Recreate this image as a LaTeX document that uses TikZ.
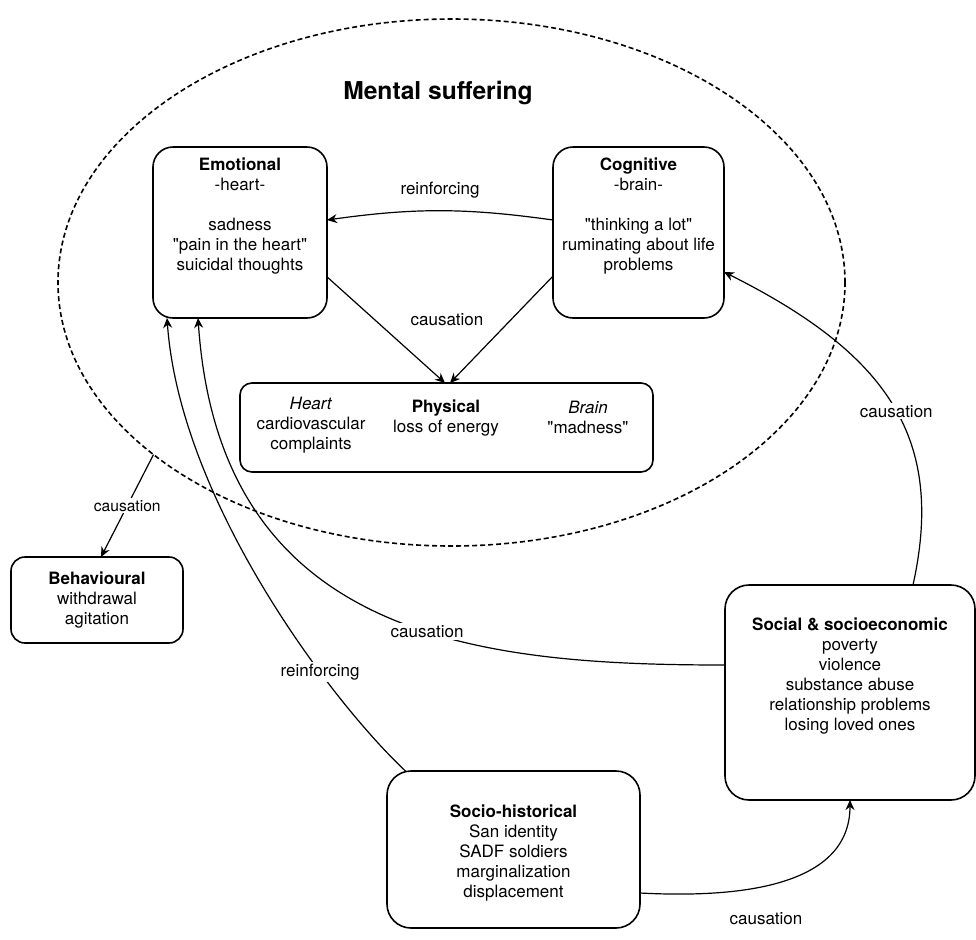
\documentclass[tikz,border=0pt]{standalone}
\usepackage{fontspec}
\setmainfont{TeX Gyre Heros}[Ligatures=TeXOff]
\usetikzlibrary{positioning,shapes.geometric,arrows.meta}

\begin{document}
\begin{tikzpicture}[x=0.5pt,y=-0.5pt,
  font=\fontsize{8.5}{10}\selectfont,
  box/.style={draw,line width=0.8pt,rounded corners=10pt,outer sep=0pt},
  txt/.style={align=center,inner sep=0pt},
  lbl/.style={fill=white,inner sep=1pt},
  arr/.style={-{Stealth[length=5pt,width=4.5pt]},line width=0.6pt}]
\useasboundingbox (0,0) rectangle (976,939);

% dashed outline
\node[ellipse,draw,line width=0.8pt,dash pattern=on 2.5pt off 1.5pt,outer sep=0pt,
  minimum width=393.5pt,minimum height=263.5pt] (ms) at (451.5,282.5) {};
\node[font=\bfseries\fontsize{12.3}{14}\selectfont] (title) at (438,93) {Mental suffering};

% boxes
\node[box,minimum width=87pt,minimum height=85.5pt] (emo) at (240,232.5) {};
\node[txt,anchor=north] (emotxt) at (240,157) {\textbf{Emotional}\\-heart-\\[10pt]sadness\\"pain in the heart"\\suicidal thoughts};
\node[box,minimum width=85.5pt,minimum height=85.5pt] (cog) at (638.5,232.5) {};
\node[txt,anchor=north] (cogtxt) at (638.5,157) {\textbf{Cognitive}\\-brain-\\[10pt]"thinking a lot"\\ruminating about life\\problems};
\node[box,rounded corners=6pt,minimum width=206.5pt,minimum height=44.5pt] (phys) at (446.5,427.5) {};
\node[txt] (heart) at (311,425) {\textit{Heart}\\cardiovascular\\complaints};
\node[txt] (physmid) at (446,418) {\textbf{Physical}\\loss of energy};
\node[txt] (brain) at (588,417) {\textit{Brain}\\"madness"};
\node[box,rounded corners=7pt,minimum width=86pt,minimum height=43pt,align=center] (beh) at (97,600) {\textbf{Behavioural}\\withdrawal\\agitation};
\node[box,rounded corners=12pt,minimum width=125pt,minimum height=107.5pt] (soc) at (850,692.5) {};
\node[txt,anchor=north] (soctxt) at (850,617) {\textbf{Social \& socioeconomic}\\poverty\\violence\\substance abuse\\relationship problems\\losing loved ones};
\node[box,rounded corners=12pt,minimum width=126.5pt,minimum height=78.5pt] (hist) at (513.5,849.5) {};
\node[txt,anchor=north] (histtxt) at (513.5,804) {\textbf{Socio-historical}\\San identity\\SADF soldiers\\marginalization\\displacement};

% connectors
\draw[arr] ([yshift=6.25pt]cog.west) to[bend right=8] node[lbl,above=5pt] {reinforcing} ([yshift=6.25pt]emo.east);
\draw[arr] (emo.-27) -- ([xshift=-0.75pt]phys.north);
\draw[arr] (cog.207.5) -- ([xshift=1.75pt]phys.north);
\node (causphys) at (447,320) {causation};
\draw[arr] (ms.210) -- node[lbl,font=\fontsize{7.8}{9}\selectfont] {causation} ([xshift=2pt]beh.north);
\draw[arr] ([xshift=31.5pt]soc.north) .. controls (945,440) and (890,355) .. node[lbl,pos=0.48] {causation} ([yshift=-19.75pt]cog.east);
\draw[arr] ([yshift=13.75pt]soc.west) .. controls (480,665) and (220,640) .. node[lbl,pos=0.42] {causation} ([xshift=-21pt]emo.south);
\draw[arr] (hist.144) .. controls (330,700) and (180,500) .. node[lbl,pos=0.31] {reinforcing} ([xshift=-36.5pt]emo.south);
\draw[arr] ([yshift=-21.75pt]hist.east) to[out=-3,in=-90] node[pos=0.45,below=10pt] {causation} (soc.south);
\end{tikzpicture}
\end{document}
